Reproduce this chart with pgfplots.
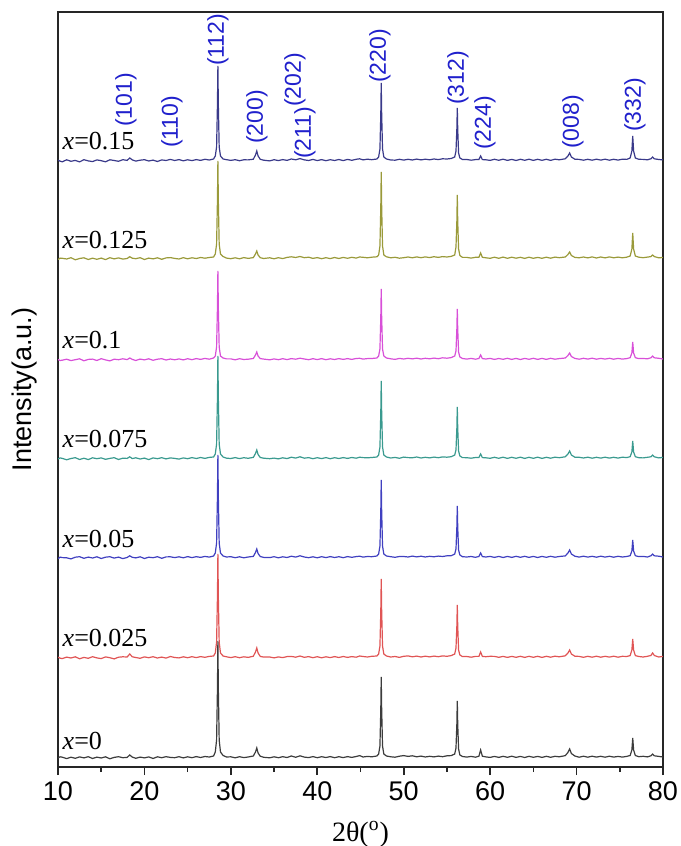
\documentclass[border=0pt]{standalone}
\usepackage{fontspec}
\setmainfont{Liberation Sans}
\newfontfamily\serif{Liberation Serif}
\usepackage{pgfplots}
\usepackage{pgfplotstable}
\pgfplotsset{compat=1.18}

\definecolor{cA}{HTML}{3C3C3C}
\definecolor{cB}{HTML}{E05555}
\definecolor{cC}{HTML}{4040C0}
\definecolor{cD}{HTML}{3A9A8F}
\definecolor{cE}{HTML}{D850D8}
\definecolor{cF}{HTML}{9A9A3A}
\definecolor{cG}{HTML}{3A3A8A}
\definecolor{idx}{HTML}{2020CC}

% intensities above each baseline, columns: x=0, 0.025, 0.05, 0.075, 0.1, 0.125, 0.15
\pgfplotstableread{
x a b c d e f g
10.0 0 0.8 -0.8 0 0.5 -0.6 0.9
10.25 1.2 -0.2 0.9 1.1 -0.5 0.9 -0.2
10.5 0.8 -0.6 0.4 0.6 -0.2 0.7 -0.8
11.0 -0.6 0.9 0.2 -0.8 0.8 0 1.2
11.5 0.8 0 -0.9 0.5 -0.6 1.3 -0.3
12.0 -0.3 1.2 0.8 1.3 0.3 -0.8 0.6
12.5 1.1 -0.8 1.3 -0.5 1.2 0.5 -0.9
13.0 0.1 0.6 -0.3 0.8 -0.8 1.2 1.3
13.5 1.3 -0.3 0.9 -0.6 0.6 -0.5 0.1
14.0 -0.5 1.3 0 1.2 0.9 0.8 -0.6
14.5 0.9 0.1 1.2 0.3 -0.5 -0.3 1.1
15.0 0 -0.6 -0.5 1.1 1.3 0.9 0.3
15.5 1.2 1.1 0.8 -0.3 0.1 -0.6 -0.8
16.0 -0.8 0.3 1.3 0.6 -0.9 1.3 1.2
16.5 0.6 -0.9 -0.1 1.3 0.8 0.1 0.5
17.0 1.3 0.8 0.9 -0.5 0.3 1.1 -0.3
17.5 0.3 1.2 -0.6 0.8 1.2 -0.1 1.3
18.0 0.6 1.0 0.5 0.6 0.4 0.5 0.6
18.3 3 4 2.2 2.2 2 2.3 3
18.6 0.9 1.2 0.7 0.4 0.6 0.8 1.1
19.0 -0.3 0.5 0.1 1.2 -0.5 0.3 -0.1
19.5 0.9 -0.3 1.2 0 0.9 1.3 0.8
20.0 0.1 1.1 -0.5 0.9 0.1 -0.5 1.3
20.5 1.1 0.3 0.8 -0.6 1.2 0.9 0
21.0 -0.5 1.3 0.3 1.1 -0.3 0.1 0.9
21.5 1.2 0 1.3 0.3 0.8 1.2 -0.5
22.0 0.3 0.9 -0.3 1.3 1.3 -0.3 1.1
22.5 1.3 -0.1 1.1 0.1 0 1.1 0.5
23.0 0.6 1.5 1.2 1.1 1 1.4 1.6
23.5 0.3 0.5 0.4 0.6 0.2 0.6 0.5
24.0 1.3 0.1 1.2 -0.1 1.1 0 1.4
24.5 0.1 1.2 0.2 1.1 0.1 1.3 0.2
25.0 1.2 0.3 1.4 0.3 1.3 0.2 1.2
25.5 0.3 1.3 0.4 1.4 0.3 1.2 0.4
26.0 1.4 0.4 1.3 0.5 1.4 0.5 1.4
26.5 0.5 1.4 0.6 1.5 0.6 1.5 0.6
27.0 1.5 0.7 1.6 0.6 1.6 0.8 1.7
27.5 1 1.6 0.9 1.6 0.8 1.5 1
28.0 2 2 2 2 2 2 2
28.2 6 5 5 5 4 5 5
28.35 18 16 15 15 13 15 14
28.45 70 62 62 62 53 59 57
28.5 117 104 103 103 89 98 95
28.55 70 62 62 62 53 59 57
28.65 18 16 15 15 13 15 14
28.8 6 5 5 5 4 5 5
29.1 2.5 2 2 2 2 2.5 2
29.5 1 1.2 1 0.8 1.1 0.9 1.3
30.0 1.2 0.4 1.3 0.5 1.1 0.3 0.6
30.5 0.2 1.3 0.3 1.4 0.2 1.2 1.3
31.0 1.3 0.3 1.2 0.4 1.3 0.2 0.3
31.5 0.4 1.2 0.2 1.3 0.5 1.4 1.2
32.0 1 0.6 1 0.7 0.8 0.6 1.1
32.6 2 1.8 1.6 1.6 1.5 1.4 1.8
32.85 6 6 5.5 5.5 5 5 6
33.0 10 10 9 9 8 8 10
33.15 5 5 4.5 4.5 4 4 5
33.4 1.8 1.6 1.5 1.5 1.4 1.3 1.7
33.8 0.7 0.9 0.6 0.8 0.9 0.5 0.8
34.5 0.2 1 0.4 0.3 0.2 1.2 0.1
35.0 1.2 0.1 1.3 0.9 1.1 0.2 1.3
35.5 0.3 1.1 0.2 0.1 0.3 1.3 0.4
36.0 1.3 0.4 1.2 1.2 1.3 0.4 1.4
36.5 0.5 1.4 0.5 0.4 0.4 1.6 0.6
37.0 2 1.6 1.8 1.8 1.4 2.2 2
37.5 0.7 0.8 0.9 0.9 0.8 1.5 1.2
38.0 2.2 2 2.2 2.2 1.8 2.5 2.4
38.5 0.9 0.7 1 0.8 1 1.3 1.1
39.0 0.4 1.4 0.3 1.4 0.3 1.8 0.5
39.5 1.4 0.3 1.2 0.3 1.3 0.6 1.6
40.0 0.3 1.3 0.2 1.3 0.4 1.4 0.4
40.5 1.3 0.2 1.3 0.4 1.4 0.3 1.4
41.0 0.5 1.2 0.4 1.4 0.3 1.3 0.3
41.5 1.4 0.4 1.4 0.3 1.2 0.4 1.3
42.0 0.3 1.4 0.5 1.3 0.5 1.5 0.5
42.5 1.3 0.5 1.3 0.5 1.4 0.5 1.5
43.0 0.4 1.5 0.3 1.4 0.6 1.6 0.4
43.5 1.4 0.6 1.4 0.6 1.4 0.7 1.6
44.0 0.6 1.4 0.7 1.5 0.6 1.7 0.7
44.5 1.5 0.8 1.4 0.8 1.5 0.9 1.7
44.9 2.4 2 1.8 1.8 1.7 2 2.2
45.3 1 1.5 0.9 1.4 0.9 1.7 1.1
45.8 1.6 1 1.5 1.2 1.4 1.2 1.8
46.3 1.2 1.7 1.3 1.5 1.5 1.8 1.3
46.9 2 2 2 2 2 2.2 2
47.1 4 4 4 4 4 4 4
47.25 12 12 12 12 11 13 12
47.35 49 47 47 47 43 52 47
47.4 81 79 78 78 71 87 78
47.45 49 47 47 47 43 52 47
47.55 12 12 12 12 11 13 12
47.7 4 4 4 4 4 4 4
48.0 2 2 2 2 2 2.2 2
48.5 1.2 1 1.3 1 1.2 1.2 1
49.0 0.8 1.5 0.7 1.6 0.6 1.7 0.8
49.5 1.8 0.6 1.5 0.7 1.6 0.8 1.7
50.0 2.4 1.7 1.5 1.9 1 1.3 0.9
50.5 1.6 2.1 1 1.4 1.7 2 1.7
51.0 2.2 1.2 1.9 1.2 1.1 1.2 1
51.5 1.2 1.9 1.1 2 1.8 2.1 1.9
52.0 1.9 1 1.8 1 1 1.3 1.1
52.5 1 1.8 1 1.7 1.7 2.1 1.8
53.0 1.7 1.1 1.7 1.1 1.2 1.4 1.2
53.5 1.1 1.9 1.2 1.9 1.9 2.3 2
54.0 1.9 1.3 1.9 1.3 1.3 1.6 1.4
54.5 1.3 2.1 1.5 2.1 2.2 2.4 2.2
55.0 2.2 1.7 2.2 1.8 1.8 2 2
55.5 2.4 2.4 2.3 2.3 2.4 2.6 2.5
55.9 4 4 4 4 4 4 4
56.05 10 10 9 9 9 12 10
56.15 34 32 31 31 31 38 32
56.2 57 53 52 52 51 64 53
56.25 34 32 31 31 31 38 32
56.35 9 8 8 8 8 10 8
56.5 3 3 3 3 3 3.5 3
56.8 1.5 1.4 1.3 1.4 1.5 1.6 1.5
57.3 0.9 1.5 1 1.3 0.9 1.6 1.5
57.8 1.6 0.8 1.5 0.8 1.6 0.9 0.8
58.3 0.8 1.6 0.7 1.5 0.8 1.7 1.4
58.7 1.8 1.6 1.5 1.4 1.5 1.7 1.5
58.9 8 6 5 5 5 6 5
59.1 1.8 1.6 1.4 1.4 1.4 1.7 1.4
59.5 1.1 1.3 1 1.2 1 1.2 1.2
60.0 0.6 1.7 1.6 0.7 1.6 0.7 0.6
60.5 1.6 1.6 0.6 1.7 0.6 1.8 1.7
61.0 0.6 0.7 1.6 0.7 1.5 0.7 0.7
61.5 1.7 1.6 0.5 1.8 0.7 1.9 1.8
62.0 0.7 0.6 1.6 0.6 1.7 0.7 0.6
62.5 1.8 1.6 0.6 1.7 0.6 1.8 1.6
63.0 0.6 0.7 1.7 0.7 1.6 0.8 0.5
63.5 1.6 1.7 0.7 1.8 0.5 1.7 1.7
64.0 0.5 0.6 1.7 0.6 1.6 0.6 0.7
64.5 1.7 1.7 0.6 1.7 0.7 1.8 1.8
65.0 0.7 0.7 1.6 0.7 1.7 0.7 0.6
65.5 1.6 1.7 0.5 1.8 0.6 1.6 1.7
66.0 0.6 0.6 1.6 0.6 1.6 0.7 0.7
66.5 1.7 1.7 0.7 1.7 0.6 1.8 1.7
67.0 0.7 0.8 1.7 0.8 1.7 0.8 0.6
67.5 1.7 1.8 0.8 1.8 0.8 1.9 1.8
68.0 1.2 1.2 1.5 1.3 1.4 1.3 1.2
68.7 2.4 2.2 2.1 2.2 2 2 2.2
69.0 5.5 5 5 5 4.5 4.5 5
69.2 9 8 8 8 7 7 8
69.4 4.5 4 4 4 3.5 3.5 4
69.8 2 1.8 1.8 1.8 1.6 1.6 1.8
70.3 0.8 1.6 0.9 1.7 0.8 1.2 1.6
70.8 1.8 0.7 1.8 1 1.7 2 0.8
71.3 0.8 1.7 0.9 1.8 0.9 1.1 1.7
71.8 1.8 0.8 1.7 0.8 1.8 2.1 0.8
72.3 0.9 1.8 0.8 1.7 0.8 1 1.8
72.8 1.7 0.8 1.8 0.9 1.6 2 0.9
73.3 0.8 1.7 0.9 1.8 0.9 1.1 1.8
73.8 1.8 0.9 1.7 0.9 1.7 2.1 0.8
74.3 0.9 1.8 0.8 1.7 0.8 1.2 1.7
74.8 1.6 0.8 1.7 0.9 1.6 1.9 0.9
75.3 0.9 1.7 1 1.8 0.9 1.2 1.8
75.8 1.6 1.5 1.5 1.4 1.4 1.8 1.6
76.2 2.5 2.4 2.3 2.3 2.3 3 3
76.4 8 8 7 7 7 10 10
76.5 20 19 18 18 18 26 25
76.6 8 8 7 7 7 10 10
76.8 2.5 2.4 2.3 2.3 2.3 3 3
77.2 1.3 1.5 1.4 1.3 1.4 1.8 1.7
77.7 1.7 1.0 1.6 1.1 1.5 1.3 1.6
78.2 1.1 1.7 1.0 1.7 1.2 1.9 1.2
78.6 2.2 2.5 2.2 2.2 2.2 2.4 2.2
78.8 4 5 4 4 4 4 4
79.0 2.2 2.5 2.2 2.2 2.2 2.4 2.2
79.5 1.6 1.0 1.8 1.1 1.7 1.2 1.5
80.0 1.0 1.6 1.0 1.6 1.0 1.5 1.1
}\xrd

\begin{document}
\begin{tikzpicture}
\begin{axis}[
  scale only axis,
  width=302.5pt, height=377.5pt,
  xmin=10, xmax=80, ymin=0, ymax=755,
  xtick={10,20,...,80}, minor x tick num=1,
  ytick=\empty,
  xtick pos=bottom, tick align=outside,
  major tick length=4pt, minor tick length=2.5pt,
  axis line style={black!85, line width=0.9pt},
  every tick/.style={black!85, line width=0.8pt},
  /pgf/number format/assume math mode=true,
  xticklabel style={font=\fontsize{13.5}{15}\selectfont},
  xlabel={\serif 2θ(\textsuperscript{o})},
  xlabel style={font=\fontsize{14}{16}\selectfont, at={(axis description cs:0.5,-0.089)}, anchor=center},
  ylabel={Intensity(a.u.)},
  ylabel style={font=\fontsize{13.5}{15}\selectfont, at={(axis description cs:-0.056,0.5)}, anchor=center},
  every axis plot/.append style={line width=0.6pt, mark=none},
]
\addplot[cA] table[x=x, y expr=\thisrow{a}+9] {\xrd};
\addplot[cB] table[x=x, y expr=\thisrow{b}+109] {\xrd};
\addplot[cC] table[x=x, y expr=\thisrow{c}+209] {\xrd};
\addplot[cD] table[x=x, y expr=\thisrow{d}+308] {\xrd};
\addplot[cE] table[x=x, y expr=\thisrow{e}+407] {\xrd};
\addplot[cF] table[x=x, y expr=\thisrow{f}+508] {\xrd};
\addplot[cG] table[x=x, y expr=\thisrow{g}+606] {\xrd};

% sample labels
\begin{scope}[every node/.style={anchor=base west, inner sep=0pt, font=\serif\fontsize{13}{15}\selectfont}]
\node at (axis cs:10.5,617) {\textit{x}=0.15};
\node at (axis cs:10.5,518) {\textit{x}=0.125};
\node at (axis cs:10.5,418) {\textit{x}=0.1};
\node at (axis cs:10.5,319) {\textit{x}=0.075};
\node at (axis cs:10.5,219) {\textit{x}=0.05};
\node at (axis cs:10.5,120) {\textit{x}=0.025};
\node at (axis cs:10.5,18) {\textit{x}=0};
\end{scope}

% Miller indices
\begin{scope}[every node/.style={rotate=90, anchor=center, inner sep=0pt, text=idx, font=\fontsize{11.5}{13}\selectfont}]
\node at (axis cs:17.87,667) {(101)};
\node at (axis cs:23.19,645) {(110)};
\node at (axis cs:28.51,727) {(112)};
\node at (axis cs:33.02,650) {(200)};
\node at (axis cs:37.42,687) {(202)};
\node at (axis cs:38.58,634) {(211)};
\node at (axis cs:47.26,711) {(220)};
\node at (axis cs:56.28,689) {(312)};
\node at (axis cs:59.40,644) {(224)};
\node at (axis cs:69.59,645) {(008)};
\node at (axis cs:76.76,662) {(332)};
\end{scope}
\end{axis}
\pgfresetboundingbox
\path ([shift={(-29pt,-39.5pt)}]current axis.south west) rectangle ([shift={(9pt,6pt)}]current axis.north east);
\end{tikzpicture}
\end{document}
